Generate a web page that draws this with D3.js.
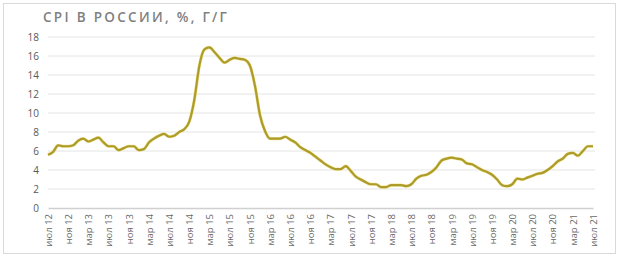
<!DOCTYPE html>
<html>
<head>
<meta charset="utf-8">
<script src="https://cdn.jsdelivr.net/npm/d3@7"></script>
<style>
  body { margin: 0; background: #fff; }
  text { font-family: "Open Sans", "DejaVu Sans", sans-serif; }
</style>
</head>
<body>
<div id="chart"></div>
<script>
const W = 620, H = 257
const margin = {top: 37, right: 25, bottom: 49, left: 48}

// monthly CPI y/y, июл 2012 .. июл 2021
const startYear = 2012, startMonth = 6
const cpi = [
  5.6, 5.9, 6.6, 6.5, 6.5, 6.6,
  7.1, 7.3, 7.0, 7.2, 7.4, 6.9, 6.5, 6.5, 6.1, 6.3, 6.5, 6.5,
  6.1, 6.2, 6.9, 7.3, 7.6, 7.8, 7.5, 7.6, 8.0, 8.3, 9.1, 11.4,
  15.0, 16.7, 16.9, 16.4, 15.8, 15.3, 15.6, 15.8, 15.7, 15.6, 15.0, 12.9,
  9.8, 8.1, 7.3, 7.3, 7.3, 7.5, 7.2, 6.9, 6.4, 6.1, 5.8, 5.4,
  5.0, 4.6, 4.3, 4.1, 4.1, 4.4, 3.9, 3.3, 3.0, 2.7, 2.5, 2.5,
  2.2, 2.2, 2.4, 2.4, 2.4, 2.3, 2.5, 3.1, 3.4, 3.5, 3.8, 4.3,
  5.0, 5.2, 5.3, 5.2, 5.1, 4.7, 4.6, 4.3, 4.0, 3.8, 3.5, 3.0,
  2.4, 2.3, 2.5, 3.1, 3.0, 3.2, 3.4, 3.6, 3.7, 4.0, 4.4, 4.9,
  5.2, 5.7, 5.8, 5.5, 6.0, 6.5, 6.5
]
const monthNames = ["янв", "фев", "мар", "апр", "май", "июн", "июл", "авг", "сен", "окт", "ноя", "дек"]
const yTicks = [0, 2, 4, 6, 8, 10, 12, 14, 16, 18]

const points = cpi.map((v, i) => {
  const m = startMonth + i
  return {i: i, v: v, label: monthNames[m % 12] + " " + String(startYear + Math.floor(m / 12)).slice(2)}
})

const svg = d3.select("#chart").append("svg")
  .attr("width", W)
  .attr("height", H)

// frame
svg.append("rect")
  .attr("x", 3.5).attr("y", 3.5)
  .attr("width", 612).attr("height", 250)
  .attr("fill", "#fff")
  .attr("stroke", "#d9d9d9")

const x = d3.scaleLinear().domain([0, cpi.length - 1]).range([margin.left, W - margin.right - 2])
const y = d3.scaleLinear().domain([0, 18]).range([H - margin.bottom, margin.top])

// gridlines
svg.append("g")
  .selectAll("line")
  .data(yTicks.slice(1))
  .enter()
  .append("line")
    .attr("x1", margin.left)
    .attr("x2", W - margin.right)
    .attr("y1", d => y(d))
    .attr("y2", d => y(d))
    .attr("stroke", "#e4e4e4")
    .attr("stroke-width", 1)

// y-axis labels
const yAxis = svg.append("g")
  .attr("transform", `translate(${margin.left},0)`)
  .call(d3.axisLeft(y).tickValues(yTicks).tickSize(0).tickPadding(9))
yAxis.select(".domain").remove()
yAxis.selectAll("text")
  .attr("fill", "#595959")
  .attr("font-size", 10)
  .style("font-family", "'Open Sans', sans-serif")

// x-axis
const xAxis = svg.append("g")
  .attr("transform", `translate(0,${y(0)})`)
  .call(d3.axisBottom(x)
    .tickValues(points.filter(d => d.i % 4 === 0).map(d => d.i))
    .tickFormat(i => points[i].label)
    .tickSize(0))
xAxis.select(".domain")
  .attr("stroke", "#d0d0d0")
  .attr("stroke-width", 1.5)
xAxis.selectAll("text")
  .attr("fill", "#6a6a6a")
  .attr("font-size", 9.5)
  .style("font-family", "'Open Sans', sans-serif")
  .attr("text-anchor", "end")
  .attr("transform", "rotate(-90)")
  .attr("x", -6)
  .attr("y", 0)
  .attr("dy", "0.35em")

// line
const line = d3.line()
  .x(d => x(d.i))
  .y(d => y(d.v))
  .curve(d3.curveMonotoneX)

svg.append("path")
  .datum(points)
  .attr("fill", "none")
  .attr("stroke", "#efe592")
  .attr("stroke-width", 3.2)
  .attr("stroke-linejoin", "round")
  .attr("d", line)

svg.append("path")
  .datum(points)
  .attr("fill", "none")
  .attr("stroke", "#ad9b2c")
  .attr("stroke-width", 2.2)
  .attr("stroke-linejoin", "round")
  .attr("d", line)

// title
svg.append("text")
  .text("CPI В РОССИИ, %, Г/Г")
  .attr("x", 43)
  .attr("y", 22)
  .attr("fill", "#7f7f7f")
  .attr("font-size", 13.5)
  .attr("font-weight", 600)
  .attr("letter-spacing", 2.3)
</script>
</body>
</html>
